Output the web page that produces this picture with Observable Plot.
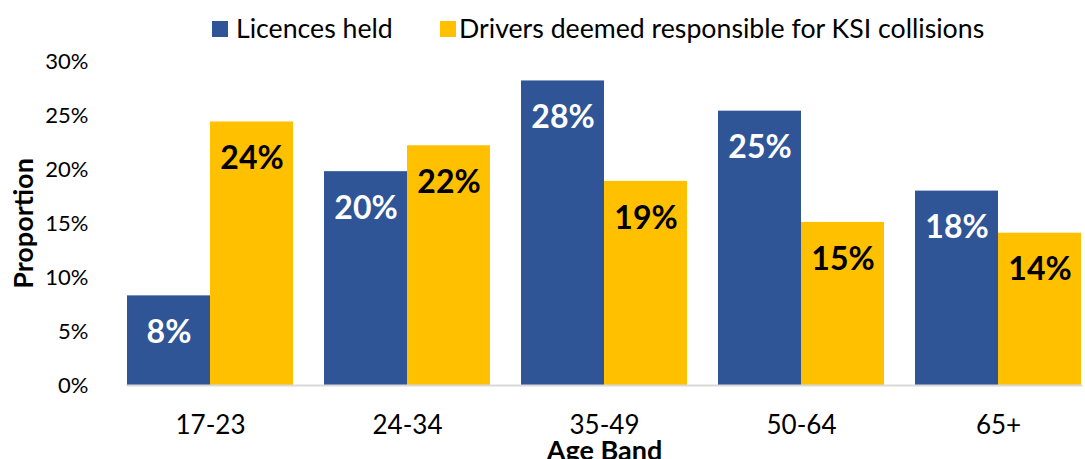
<!DOCTYPE html>
<html>
<head>
<meta charset="utf-8">
<script src="https://cdn.jsdelivr.net/npm/d3@7"></script>
<script src="https://cdn.jsdelivr.net/npm/@observablehq/plot@0.6"></script>
<style>
  body { margin: 0; background: #fff; font-family: Lato, sans-serif; }
  #legend { position: relative; width: 1085px; height: 50px; }
  .sw { position: absolute; top: 21px; width: 16px; height: 16px; }
  .lt { position: absolute; top: 12.6px; font-size: 26.7px; line-height: 30px; color: #000; white-space: nowrap; }
  #chart svg [aria-label="y-axis label"] text { font-weight: bold; font-size: 27px; }
  #chart svg [aria-label="fx-axis label"] text { font-weight: bold; font-size: 27px; }
</style>
</head>
<body>
<div id="legend"></div>
<div id="chart"></div>
<script>
const ageBands = ["17-23", "24-34", "35-49", "50-64", "65+"];
const seriesNames = ["Licences held", "Drivers deemed responsible for KSI collisions"];
const licencesHeld = [8.3, 19.8, 28.2, 25.4, 18.0];
const ksiDrivers = [24.4, 22.2, 18.9, 15.1, 14.1];
const yTicks = [0, 5, 10, 15, 20, 25, 30];
const seriesColors = ["#2F5597", "#FFC000"];

const data = ageBands.flatMap((b, i) => [
  { band: b, series: seriesNames[0], value: licencesHeld[i] },
  { band: b, series: seriesNames[1], value: ksiDrivers[i] }
]);

// legend (HTML, above the SVG)
const legend = document.getElementById("legend");
const legendPos = [[212, 236], [440, 459]];
seriesNames.forEach((name, i) => {
  const sw = document.createElement("div");
  sw.className = "sw";
  sw.style.left = legendPos[i][0] + "px";
  sw.style.background = seriesColors[i];
  legend.appendChild(sw);
  const t = document.createElement("div");
  t.className = "lt";
  t.style.left = legendPos[i][1] + "px";
  t.textContent = name;
  legend.appendChild(t);
});

const chart = Plot.plot({
  width: 1085,
  height: 409,
  marginTop: 11,
  marginBottom: 74,
  marginLeft: 110,
  marginRight: 0,
  style: { fontFamily: "Lato, sans-serif", background: "#fff", overflow: "visible", color: "#000" },
  fx: { domain: ageBands, range: [110.5, 1098], paddingInner: 0.157, paddingOuter: 0.0785 },
  x: { domain: seriesNames, padding: 0, axis: null },
  y: { domain: [0, 30] },
  color: { domain: seriesNames, range: seriesColors },
  marks: [
    Plot.barY(data, { fx: "band", x: "series", y: "value", fill: "series" }),
    Plot.frame({ anchor: "bottom", facet: "super", stroke: "#d9d9d9", strokeWidth: 2 }),
    Plot.text(data, {
      filter: d => d.series === seriesNames[0],
      fx: "band", x: "series", y: "value",
      text: d => Math.round(d.value) + "%",
      dy: 37, fill: "white", fontSize: 32, fontWeight: "bold"
    }),
    Plot.text(data, {
      filter: d => d.series === seriesNames[1],
      fx: "band", x: "series", y: "value",
      text: d => Math.round(d.value) + "%",
      dy: 37, fill: "black", fontSize: 32, fontWeight: "bold"
    }),
    Plot.axisY({
      ticks: yTicks,
      tickFormat: d => d + "%",
      tickSize: 0,
      tickPadding: 39,
      fontSize: 22,
      label: "Proportion",
      labelAnchor: "center",
      labelArrow: "none",
      labelOffset: 114
    }),
    Plot.axisFx({
      anchor: "bottom",
      tickSize: 0,
      tickPadding: 30,
      fontSize: 26,
      label: "Age Band",
      labelAnchor: "center",
      labelArrow: "none",
      labelOffset: 74
    })
  ]
});
document.getElementById("chart").appendChild(chart);
</script>
</body>
</html>
